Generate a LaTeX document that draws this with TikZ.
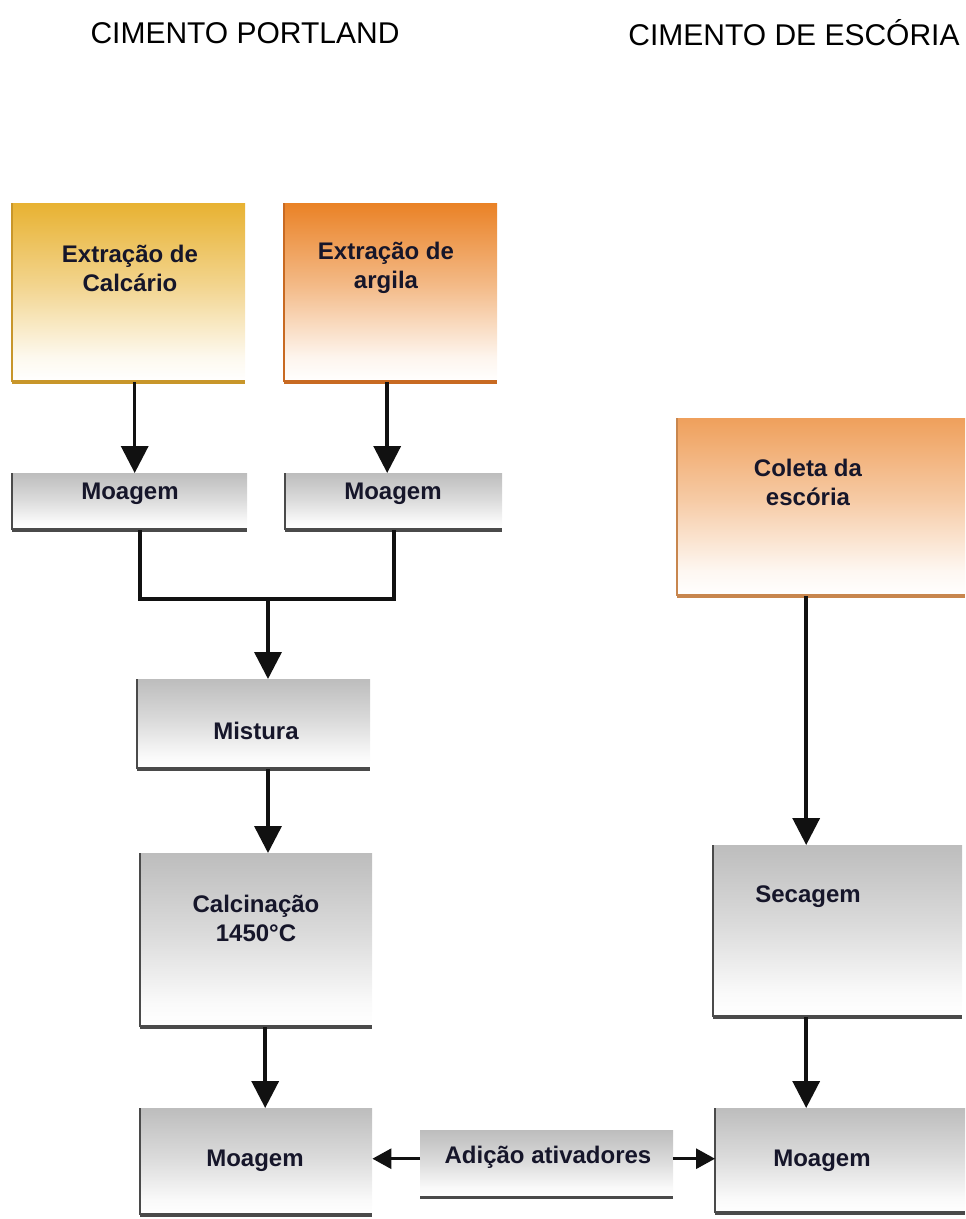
\documentclass[tikz,border=0pt]{standalone}
\usepackage{fontspec}
\setmainfont{Liberation Sans}
\usetikzlibrary{arrows.meta}
\definecolor{yel}{HTML}{E8B232}
\definecolor{yeld}{HTML}{C8962A}
\definecolor{org}{HTML}{EA8226}
\definecolor{orgd}{HTML}{C86A22}
\definecolor{lor}{HTML}{EFA05C}
\definecolor{lord}{HTML}{C8864E}
\definecolor{gry}{HTML}{BDBDBD}
\definecolor{gryd}{HTML}{4A4A4A}
\definecolor{ink}{HTML}{16162A}
\definecolor{arc}{HTML}{111111}
\colorlet{boxc}{gry}
\pgfdeclareverticalshading[boxc]{boxshade}{100bp}{color(0bp)=(white); color(25bp)=(white); color(32bp)=(boxc!8!white); color(52bp)=(boxc!55!white); color(75bp)=(boxc); color(100bp)=(boxc)}
\newcommand\boxedge[2]{%
  \draw[#2, line width=1.2pt] (#1.north west) -- (#1.south west);
  \draw[#2, line width=4pt] (#1.south west) -- (#1.south east);}
\tikzset{
  bx/.style={anchor=north west, inner sep=0pt, /utils/exec={\colorlet{boxc}{#1}}, shading=boxshade},
  lbl/.style={font=\bfseries\fontsize{24}{29}\selectfont, align=center, text=ink, inner sep=0pt},
  ttl/.style={font=\fontsize{30}{34}\selectfont, text=black, inner sep=0pt},
  ln/.style={line width=3.5pt, draw=arc},
  arr/.style={line width=3.5pt, draw=arc, -{Triangle[width=27pt,length=27pt]}},
  arrs/.style={line width=3pt, draw=arc, -{Triangle[width=20pt,length=19pt]}}
}
\begin{document}
\begin{tikzpicture}[x=1pt,y=-1pt]
\useasboundingbox (0,0) rectangle (966,1219);
% titles
\node[ttl] (h1) at (245,33) {CIMENTO PORTLAND};
\node[ttl] (h2) at (794,33) {CIMENTO DE ESCÓRIA};
% boxes
\node[bx=yel, minimum width=233, minimum height=179] (b1) at (12,203) {};
\node[bx=org, minimum width=213, minimum height=179] (b2) at (284,203) {};
\node[bx=gry, minimum width=235, minimum height=57] (m1) at (12,473) {};
\node[bx=gry, minimum width=217, minimum height=57] (m2) at (285,473) {};
\node[bx=gry, minimum width=233, minimum height=90] (mix) at (137,679) {};
\node[bx=gry, minimum width=232, minimum height=174] (calc) at (140,853) {};
\node[bx=gry, minimum width=232, minimum height=107] (m3) at (140,1108) {};
\node[bx=gry, minimum width=253, minimum height=67] (add) at (420,1130) {};
\node[bx=gry, minimum width=250, minimum height=105] (m4) at (715,1108) {};
\node[bx=lor, minimum width=288, minimum height=178] (col) at (677,418) {};
\node[bx=gry, minimum width=249, minimum height=172] (sec) at (713,845) {};
\boxedge{b1}{yeld}
\boxedge{b2}{orgd}
\boxedge{col}{lord}
\boxedge{m1}{gryd}
\boxedge{m2}{gryd}
\boxedge{mix}{gryd}
\boxedge{calc}{gryd}
\boxedge{m3}{gryd}
\boxedge{m4}{gryd}
\boxedge{sec}{gryd}
\draw[gryd, line width=3pt] (add.south west) -- (add.south east);
% labels
\node[lbl] (t1) at (130,268) {Extração de\\Calcário};
\node[lbl] (t2) at (386,268) {Extração de\\argila};
\node[lbl] (t3) at (130,494) {Moagem};
\node[lbl] (t4) at (393,494) {Moagem};
\node[lbl] (t5) at (256,731) {Mistura};
\node[lbl] (t6) at (256,918) {Calcinação\\1450°C};
\node[lbl] (t7) at (255,1161) {Moagem};
\node[lbl] (t8) at (548,1157) {Adição ativadores};
\node[lbl] (t9) at (822,1161) {Moagem};
\node[lbl] (t10) at (808,482) {Coleta da\\escória};
\node[lbl] (t11) at (808,897) {Secagem};
% connectors
\coordinate (j1) at (140,599);
\coordinate (j2) at (394,599);
\coordinate (j3) at (268,599);
\draw[arr] ([xshift=6]b1.south) -- ([xshift=6]b1.south |- m1.north);
\draw[arr] ([xshift=-3.5]b2.south) -- ([xshift=-3.5]b2.south |- m2.north);
\draw[ln] (m1.south -| j1) -- (j1) -- (j2) -- (m2.south -| j2);
\draw[arr] (j3) -- (j3 |- mix.north);
\draw[arr] (j3 |- mix.south) -- (j3 |- calc.north);
\draw[arr] ([xshift=9]calc.south) -- ([xshift=9]calc.south |- m3.north);
\draw[arr] ([xshift=-15]col.south) -- ([xshift=-15]col.south |- sec.north);
\draw[arr] ([xshift=-15]col.south |- sec.south) -- ([xshift=-15]col.south |- m4.north);
\draw[arrs] ([yshift=5]add.west) -- ([yshift=5]add.west -| m3.east);
\draw[arrs] ([yshift=5]add.east) -- ([yshift=5]add.east -| m4.west);
\end{tikzpicture}
\end{document}
